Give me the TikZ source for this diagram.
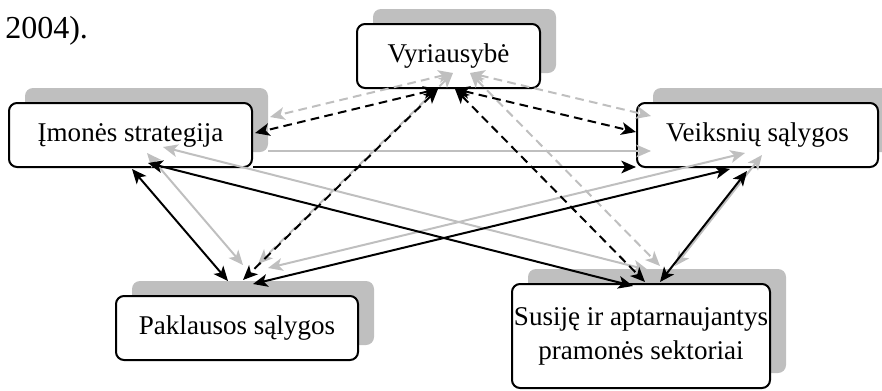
\documentclass[tikz,border=0pt]{standalone}
\usepackage{fontspec}
\setmainfont{Liberation Serif}
\usetikzlibrary{arrows.meta,calc,shadows}
\definecolor{shgray}{RGB}{191,191,191}
\newcommand\drawlinks[1]{%
  \draw[lk,dsh,both,#1] (vyrL) -- (imoE);
  \draw[lk,dsh,both,#1] (vyrL) -- (pakC);
  \draw[lk,dsh,both,#1] (vyrR) -- (veiW);
  \draw[lk,dsh,both,#1] (vyrR) -- (susD);
  \draw[lk,one,#1] (imoSE) -- (veiSW);
  \draw[lk,both,#1] (imoF) -- (pakF);
  \draw[lk,both,#1] (imoG) -- (susG);
  \draw[lk,both,#1] (veiH) -- (pakH);
  \draw[lk,both,#1] (veiI) -- (susI);
}
\begin{document}
\begin{tikzpicture}[x=0.75pt,y=-0.75pt,
  box/.style={draw, line width=1.5pt, rounded corners=6pt, fill=white, align=center, inner sep=0pt,
     font=\fontsize{20.3}{25.5}\selectfont,
     drop shadow={shadow xshift=12pt,shadow yshift=11.25pt,fill=shgray,opacity=1}},
  lk/.style={line width=1.5pt, draw=black},
  both/.style={{Stealth[length=11pt,width=9.5pt,inset=2.8pt]}-{Stealth[length=11pt,width=9.5pt,inset=2.8pt]}},
  one/.style={-{Stealth[length=11pt,width=9.5pt,inset=2.8pt]}},
  dsh/.style={dash pattern=on 6.5pt off 4pt},
  shd/.style={draw=shgray}]
\useasboundingbox (0,0) rectangle (882,390);
\node[anchor=base west, inner sep=0pt, font=\fontsize{24}{28}\selectfont] (yr) at (5,38) {2004).};
\node[box, minimum width=137.25pt, minimum height=48pt] (vyr) at (448.5,56) {Vyriausybė};
\node[box, minimum width=182.25pt, minimum height=48pt] (imo) at (130.5,135) {Įmonės strategija};
\node[box, minimum width=180.75pt, minimum height=48pt] (vei) at (757.5,135) {Veiksnių sąlygos};
\node[box, minimum width=181.5pt, minimum height=48pt] (pak) at (237,328) {Paklausos sąlygos};
\node[box, minimum width=193.5pt, minimum height=78pt] (sus) at (641,336) {Susiję ir aptarnaujantys\\pramonės sektoriai};
% connector end points
\coordinate (vyrL) at ($(vyr.south)+(-10.5,0)$);
\coordinate (vyrR) at ($(vyr.south)+(6.5,0)$);
\coordinate (imoE) at ($(imo.east)+(2,-2)$);
\coordinate (veiW) at ($(vei.west)+(0,-3)$);
\coordinate (pakF) at ($(pak.north)+(-9,-14)$);
\coordinate (pakC) at ($(pak.north)+(6,-15)$);
\coordinate (pakH) at ($(pak.north)+(16,-11)$);
\coordinate (susG) at ($(sus.north)+(-8,3)$);
\coordinate (susD) at ($(sus.north)+(4,-1)$);
\coordinate (susI) at ($(sus.north)+(19,-1)$);
\coordinate (imoF) at ($(imo.south)+(1.5,1)$);
\coordinate (imoG) at ($(imo.south)+(17.5,-5)$);
\coordinate (veiH) at ($(vei.south)+(-27.5,1)$);
\coordinate (veiI) at ($(vei.south)+(-10.5,3)$);
\coordinate (imoSE) at ($(imo.south east)+(0,-1)$);
\coordinate (veiSW) at ($(vei.south west)+(0,-1)$);
\begin{scope}[transform canvas={xshift=11.25pt,yshift=12pt}]
  \drawlinks{shd}
\end{scope}
\drawlinks{}
\end{tikzpicture}
\end{document}
